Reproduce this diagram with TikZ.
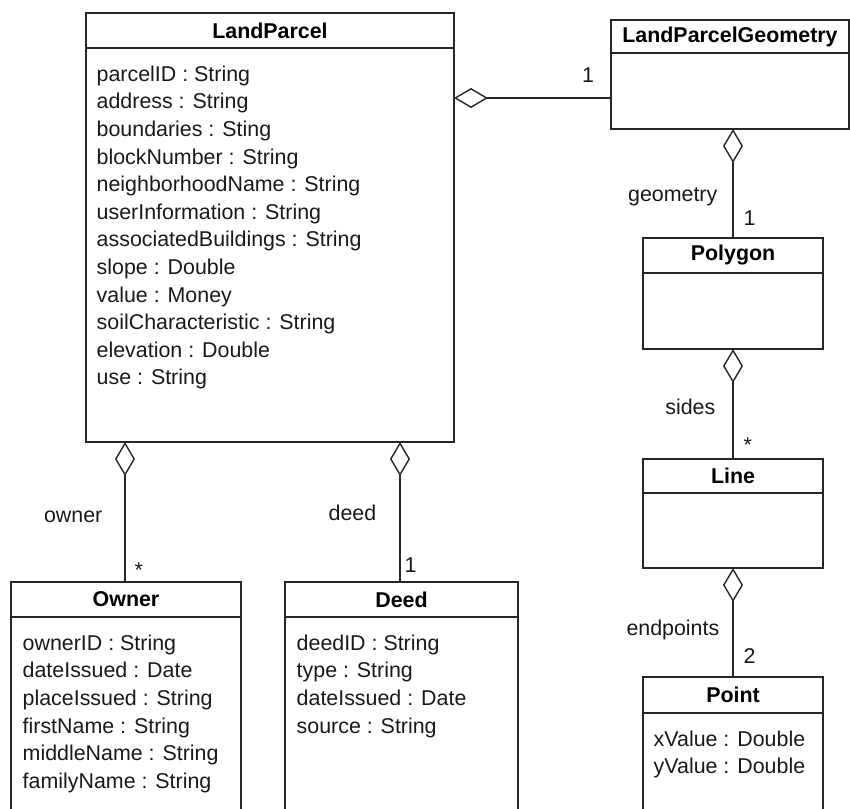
\documentclass[tikz,border=0pt]{standalone}
\usepackage{fontspec}
\setmainfont{Liberation Sans}
\usetikzlibrary{positioning,arrows.meta}

\begin{document}
\begin{tikzpicture}[x=1pt, y=-1pt, line width=1.4pt, draw=black!85, font=\fontsize{21.4}{27.6}\selectfont,
classhead/.style={draw, rectangle, minimum height=35pt, inner sep=0pt, outer sep=0pt, font=\fontsize{21.4}{27.6}\selectfont\bfseries},
classbody/.style={draw, rectangle, inner sep=0pt, outer sep=0pt},
attrs/.style={align=left, inner sep=0pt, text=black!90},
aggr/.style={{Diamond[open, length=34pt, width=20pt]}-},
role/.style={inner sep=0pt, text=black!90},
mult/.style={inner sep=0pt, text=black!90}]
    \useasboundingbox (0,0) rectangle (850,808);

    % classes
    \node[classhead, minimum width=368pt, anchor=north west] (lp) at (86,13) {LandParcel};
    \node[classbody, minimum width=368pt, minimum height=394pt, below=0pt of lp] (lpbody) {};
    \node[attrs, below right=17pt and 10pt of lpbody.north west] (lpattrs) {parcelID : String\\
      address : String\\ boundaries : Sting\\ blockNumber : String\\ neighborhoodName : String\\
      userInformation : String\\ associatedBuildings : String\\ slope : Double\\ value : Money\\
      soilCharacteristic : String\\ elevation : Double\\ use : String};

    \node[classhead, minimum width=238pt, minimum height=33pt, anchor=north west] (lpg) at (611,20) {LandParcelGeometry};
    \node[classbody, minimum width=238pt, minimum height=76pt, below=0pt of lpg] (lpgbody) {};

    \node[classhead, minimum width=180pt, anchor=north west] (poly) at (643,238) {Polygon};
    \node[classbody, minimum width=180pt, minimum height=76pt, below=0pt of poly] (polybody) {};

    \node[classhead, minimum width=180pt, minimum height=34pt, anchor=north west] (line) at (643,459) {Line};
    \node[classbody, minimum width=180pt, minimum height=75pt, below=0pt of line] (linebody) {};

    \node[classhead, minimum width=180pt, minimum height=36pt, anchor=north west] (point) at (643,677) {Point};
    \node[classbody, minimum width=180pt, minimum height=200pt, below=0pt of point] (pointbody) {};
    \node[attrs, below right=17pt and 10pt of pointbody.north west] (pointattrs) {xValue : Double\\ yValue : Double};

    \node[classhead, minimum width=230pt, anchor=north west] (owner) at (11,582) {Owner};
    \node[classbody, minimum width=230pt, minimum height=250pt, below=0pt of owner] (ownerbody) {};
    \node[attrs, below right=17pt and 11pt of ownerbody.north west] (ownerattrs) {ownerID : String\\
      dateIssued : Date\\ placeIssued : String\\ firstName : String\\ middleName : String\\ familyName : String};

    \node[classhead, minimum width=233pt, anchor=north west] (deed) at (285,582) {Deed};
    \node[classbody, minimum width=233pt, minimum height=250pt, below=0pt of deed] (deedbody) {};
    \node[attrs, below right=17pt and 11pt of deedbody.north west] (deedattrs) {deedID : String\\
      type : String\\ dateIssued : Date\\ source : String};

    % aggregations
    \coordinate (lpgend) at ([yshift=-7pt]lpgbody.west);
    \coordinate (ownertop) at ([xshift=-1pt]owner.north);
    \coordinate (deedtop) at ([xshift=-1.5pt]deed.north);
    \draw[aggr] (lpbody.east |- lpgend) -- (lpgend)
      node[mult, pos=0.854, above=15pt] {1};
    \draw[aggr] (lpbody.south -| ownertop) -- (ownertop)
      node[role, pos=0.536, left=22pt] {owner}
      node[mult, pos=0.914, right=9pt] {*};
    \draw[aggr] (lpbody.south -| deedtop) -- (deedtop)
      node[role, pos=0.507, left=23pt] {deed}
      node[mult, pos=0.88, right=4pt] {1};
    \draw[aggr] (lpgbody.south -| poly.north) -- (poly.north)
      node[role, pos=0.62, left=15pt] {geometry}
      node[mult, pos=0.82, right=10pt] {1};
    \draw[aggr] (polybody.south) -- (line.north)
      node[role, pos=0.527, left=17pt] {sides}
      node[mult, pos=0.87, right=10pt] {*};
    \draw[aggr] (linebody.south) -- (point.north)
      node[role, pos=0.57, left=13pt] {endpoints}
      node[mult, pos=0.81, right=10pt] {2};
\end{tikzpicture}
\end{document}
